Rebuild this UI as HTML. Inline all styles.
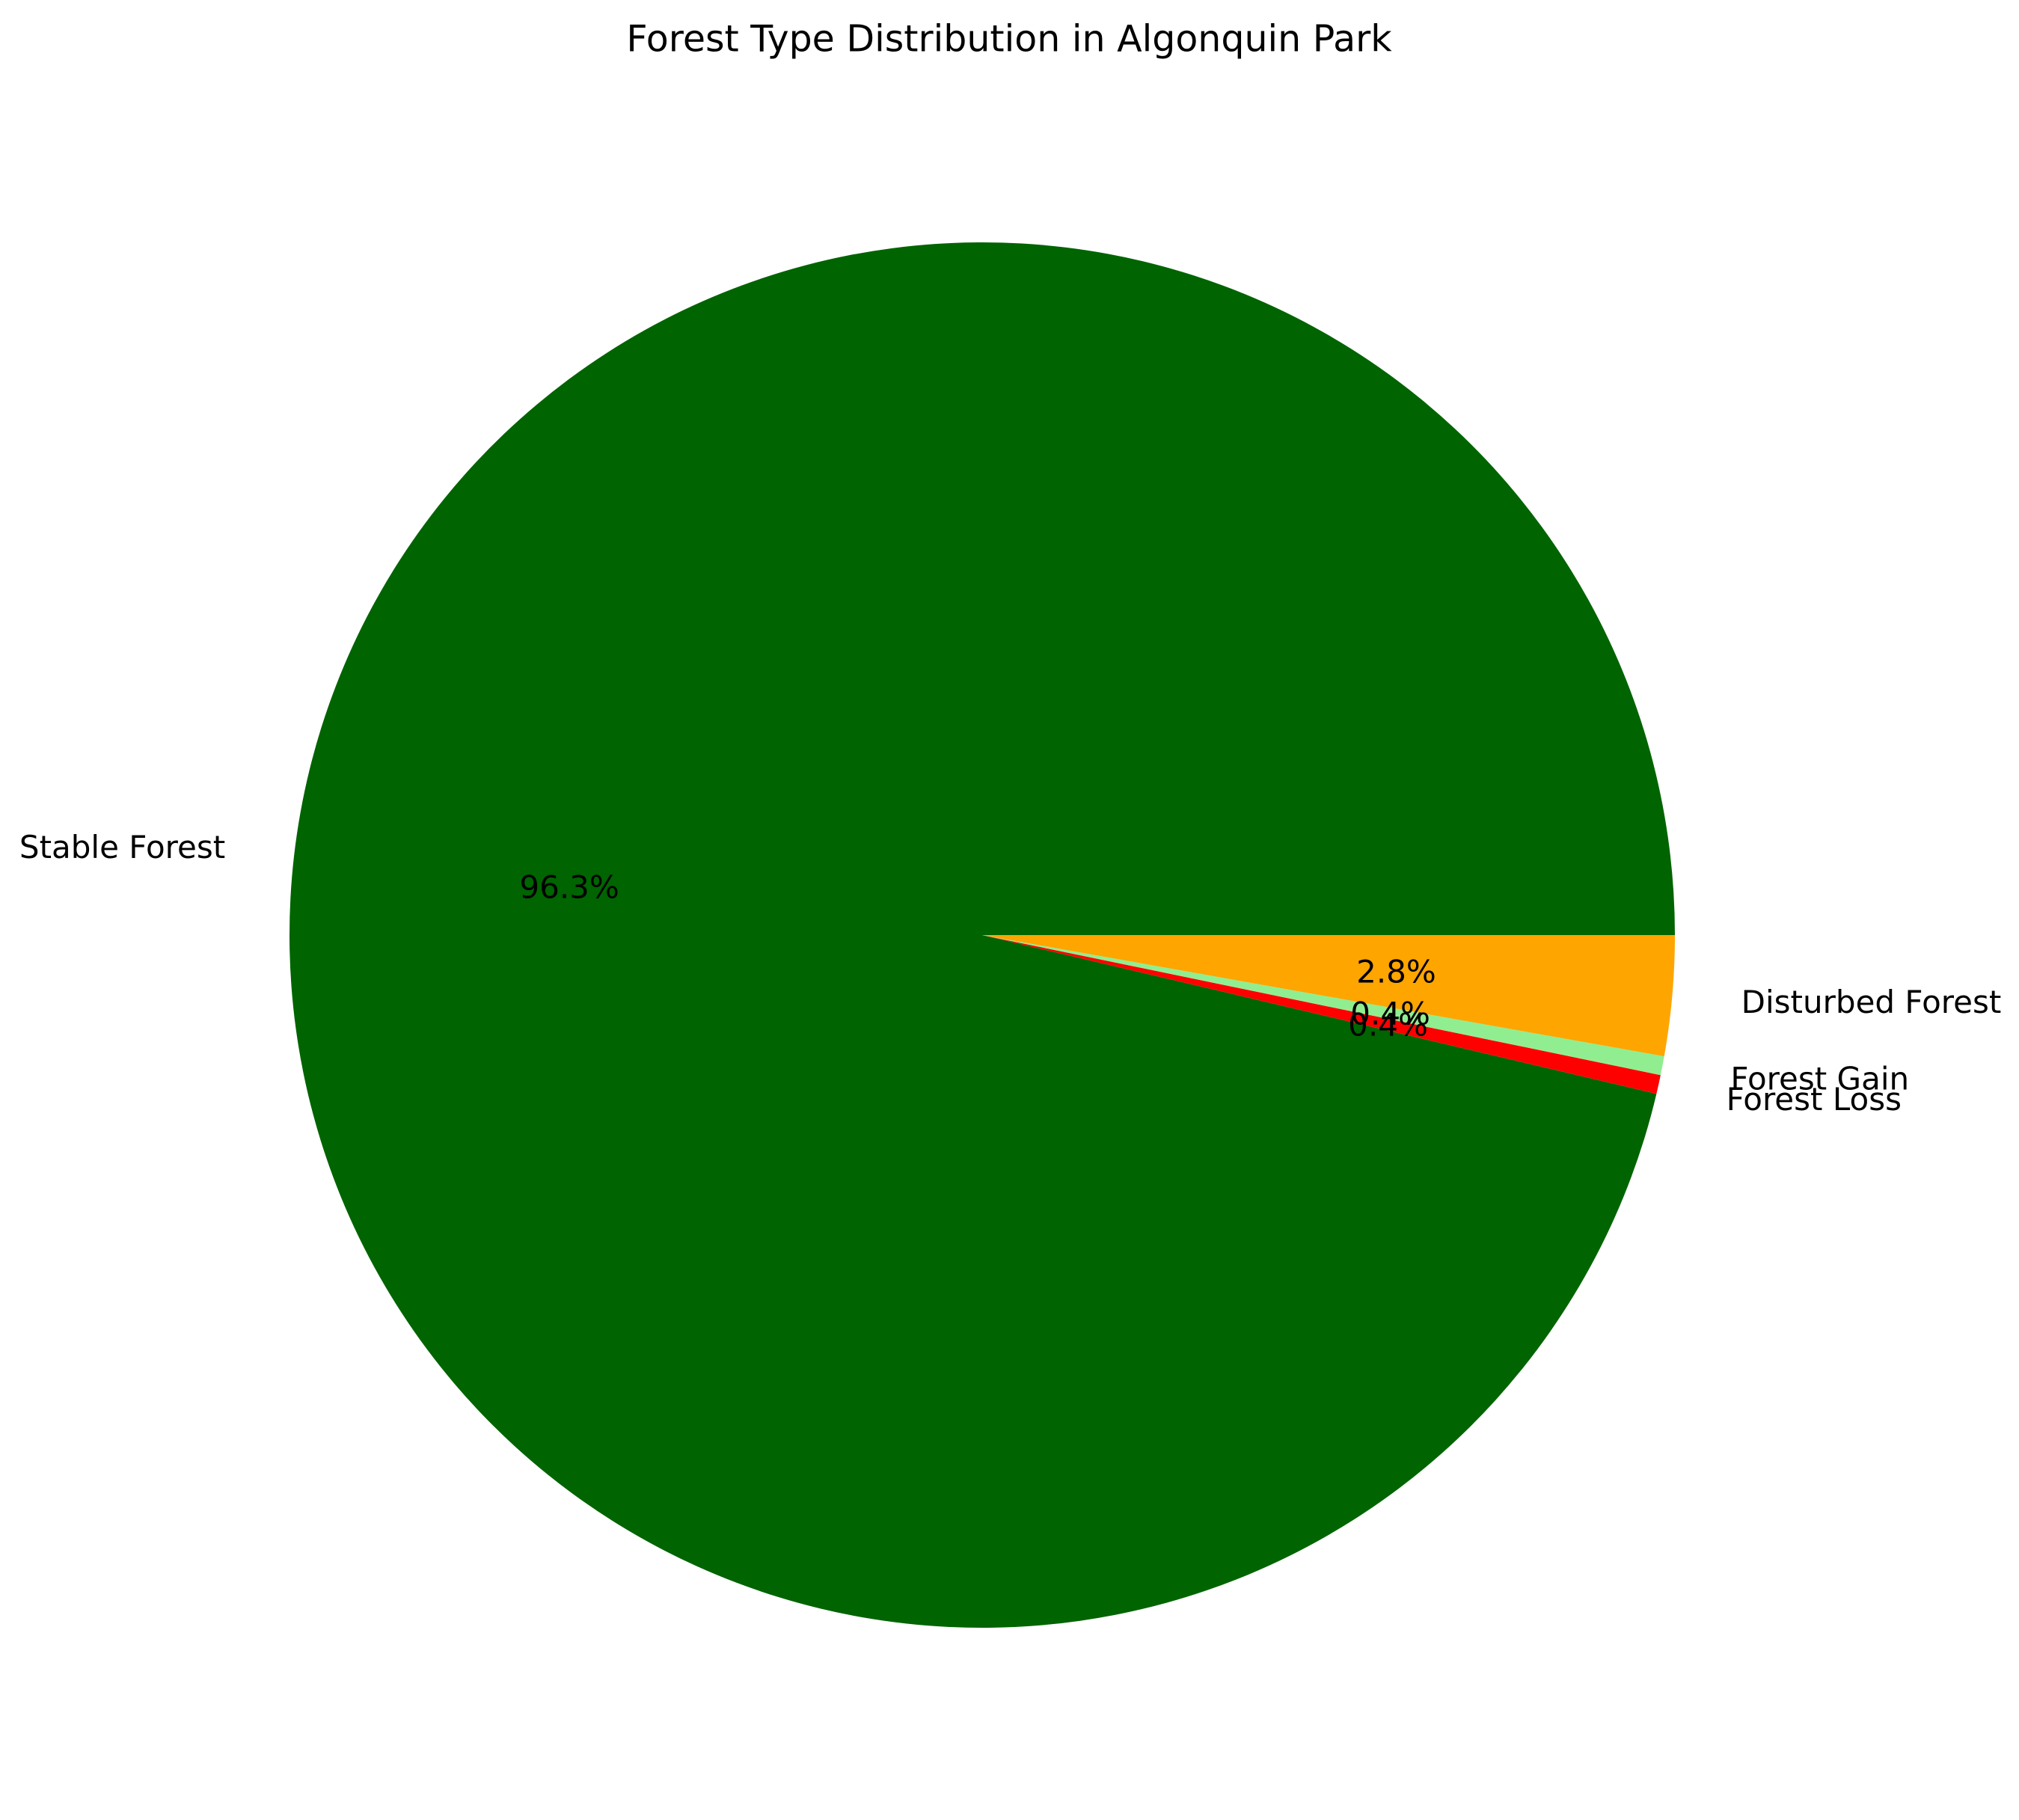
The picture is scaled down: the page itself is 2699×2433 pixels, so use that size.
<!DOCTYPE html>
<html>
<head>
<meta charset="utf-8">
<style>
  html, body { margin: 0; padding: 0; background: #fff; }
  svg { display: block; }
  text { font-family: "DejaVu Sans", "Liberation Sans", sans-serif; fill: #000; }
</style>
</head>
<body>
<svg id="chart" width="2699" height="2433" viewBox="0 0 2699 2433" xmlns="http://www.w3.org/2000/svg">
  <rect width="2699" height="2433" fill="#ffffff"/>
  <text x="1349" y="52" font-size="49" text-anchor="middle" dominant-baseline="central">Forest Type Distribution in Algonquin Park</text>
  <g id="slices"></g>
  <g id="labels"></g>
</svg>
<script>
const categories = ["Stable Forest", "Forest Loss", "Forest Gain", "Disturbed Forest"];
const values = [96.32, 0.44, 0.44, 2.80];
const colors = ["#006400", "#ff0000", "#90ee90", "#ffa500"];

const cx = 1313, cy = 1250, R = 926;
const NS = "http://www.w3.org/2000/svg";
const total = values.reduce((a, b) => a + b, 0);
const sliceG = document.getElementById("slices");
const labelG = document.getElementById("labels");
function pt(r, deg) {
  const a = deg * Math.PI / 180;
  return [cx + r * Math.cos(a), cy - r * Math.sin(a)];
}
let start = 0;
values.forEach((v, i) => {
  const sweep = 360 * v / total;
  const end = start + sweep;
  const p1 = pt(R, start), p2 = pt(R, end);
  const large = sweep > 180 ? 1 : 0;
  const path = document.createElementNS(NS, "path");
  path.setAttribute("d", `M${cx},${cy} L${p1[0]},${p1[1]} A${R},${R} 0 ${large} 0 ${p2[0]},${p2[1]} Z`);
  path.setAttribute("fill", colors[i]);
  
  
  sliceG.appendChild(path);

  const mid = start + sweep / 2;
  const lp = pt(R * 1.1, mid);
  const t = document.createElementNS(NS, "text");
  t.setAttribute("x", lp[0]);
  t.setAttribute("y", lp[1]);
  t.setAttribute("font-size", "42");
  t.setAttribute("dominant-baseline", "central");
  t.setAttribute("text-anchor", lp[0] >= cx ? "start" : "end");
  t.textContent = categories[i];
  
  
  labelG.appendChild(t);

  const pp = pt(R * 0.6, mid);
  const p = document.createElementNS(NS, "text");
  p.setAttribute("x", pp[0]);
  p.setAttribute("y", pp[1]);
  p.setAttribute("font-size", "42");
  p.setAttribute("dominant-baseline", "central");
  p.setAttribute("text-anchor", "middle");
  p.textContent = (100 * v / total).toFixed(1) + "%";
  
  
  labelG.appendChild(p);

  start = end;
});
</script>
</body>
</html>
